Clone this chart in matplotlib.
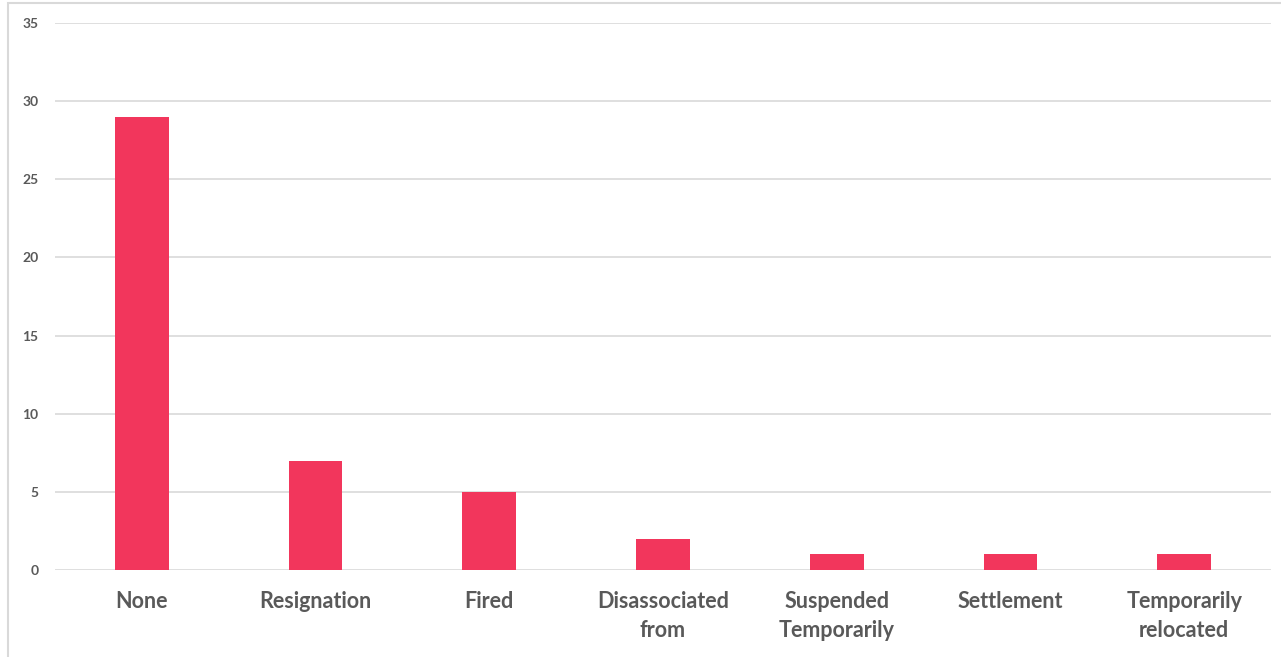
import matplotlib

matplotlib.use("Agg")
import matplotlib.pyplot as plt
from matplotlib.patches import Rectangle

categories = ["None", "Resignation", "Fired", "Disassociated\nfrom",
              "Suspended\nTemporarily", "Settlement", "Temporarily\nrelocated"]
counts = [29, 7, 5, 2, 1, 1, 1]
yticks = [0, 5, 10, 15, 20, 25, 30, 35]

BAR = "#F2365C"
GRID = "#D9D9D9"
TEXT = "#595959"

plt.rcParams["font.family"] = ["Lato", "DejaVu Sans"]

fig = plt.figure(figsize=(12.81, 6.57), dpi=100)
ax = fig.add_axes([55 / 1281, 1 - 570 / 657, (1271 - 55) / 1281, (570 - 23) / 657])

x = range(len(categories))
ax.bar(x, counts, width=0.31, color=BAR, zorder=3)

ax.set_xlim(-0.5, len(categories) - 0.5)
ax.set_ylim(0, 35)
ax.set_yticks(yticks)
ax.set_xticks(list(x))
ax.set_xticklabels(categories, fontsize=15.5, fontweight="bold", color=TEXT,
                   linespacing=1.5)
ax.tick_params(axis="y", labelsize=10, labelcolor=TEXT, length=0, pad=12)
ax.tick_params(axis="x", length=0, pad=15)
for lbl in ax.get_yticklabels():
    lbl.set_fontweight("bold")

ax.grid(axis="y", color=GRID, linewidth=1.2, zorder=0)
for s in ax.spines.values():
    s.set_visible(False)

# outer chart frame
fig.patches.append(Rectangle((8 / 1281, -0.05), 1.5, 1 - 3 / 657 + 0.05,
                             transform=fig.transFigure, fill=False,
                             edgecolor=GRID, linewidth=1.5))

fig.savefig("out.png", dpi=100)
